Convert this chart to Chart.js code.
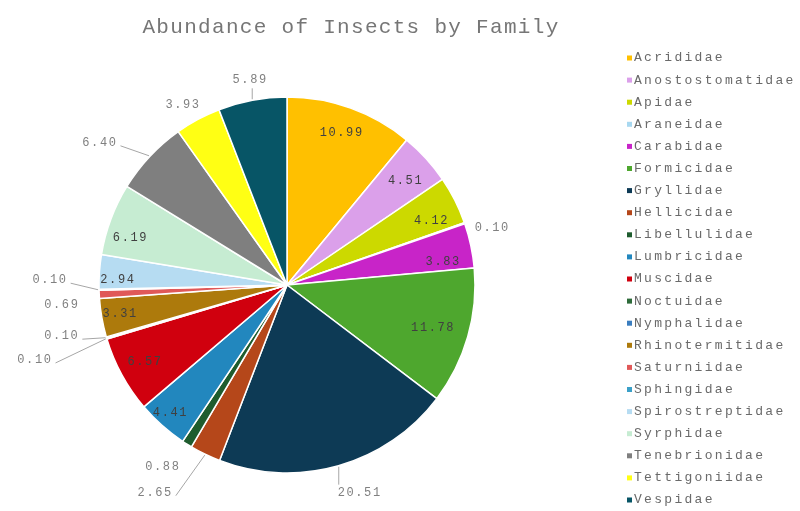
<!DOCTYPE html>
<html>
<head>
<meta charset="utf-8">
<script src="https://cdn.jsdelivr.net/npm/chart.js@4.4.1/dist/chart.umd.min.js"></script>
<style>
  html, body { margin: 0; padding: 0; background: #fff; }
  canvas { display: block; }
</style>
</head>
<body>
<canvas id="insectPie" width="800" height="511"></canvas>
<script>
// percent of all insects caught, per family
const families = [
  "Acrididae", "Anostostomatidae", "Apidae", "Araneidae", "Carabidae",
  "Formicidae", "Gryllidae", "Hellicidae", "Libellulidae", "Lumbricidae",
  "Muscidae", "Noctuidae", "Nymphalidae", "Rhinotermitidae", "Saturniidae",
  "Sphingidae", "Spirostreptidae", "Syrphidae", "Tenebrionidae", "Tettigoniidae",
  "Vespidae"
];
const abundance = [
  10.99, 4.51, 4.12, 0.10, 3.83,
  11.78, 20.51, 2.65, 0.88, 4.41,
  6.57, 0.10, 0.10, 3.31, 0.69,
  0.10, 2.94, 6.19, 6.40, 3.93,
  5.89
];
const sliceColors = [
  "#FFC000", "#DBA0EA", "#CCD900", "#A8D8F0", "#C824C8",
  "#4EA72E", "#0D3A55", "#B5471A", "#1E5C2E", "#2287BE",
  "#D0000E", "#2E6B3A", "#3A7DBF", "#AD7A0C", "#E05858",
  "#3BA0C8", "#B6DCF2", "#C6ECD2", "#7F7F7F", "#FFFF14",
  "#075566"
];

// where each value label goes: inside (r = fraction of radius) or outside (r in px past the rim)
// da = small angle nudge in degrees, leader = draw a connector ('side' or 'top')
const labelSpots = [
  { r: 0.86, da: 0 }, { r: 0.84, da: 1 }, { r: 0.84, da: 3 },
  { out: 25, da: 3.7 }, { r: 0.84, da: 3.7 }, { r: 0.81, da: 0.4 },
  { out: 32, da: -3.4, leader: "top" }, { out: 58, da: 6.6, leader: "side" },
  { out: 32, da: 2.2 }, { r: 0.92, da: 0.7 }, { r: 0.86, da: 0 },
  { out: 75, da: 0, leader: "side" }, { out: 43, da: 3.4, leader: "side" },
  { r: 0.9, da: 0.4 }, { out: 38, da: -2.1 }, { out: 49, da: 2.6, leader: "side" },
  { r: 0.9, da: -2.3 }, { r: 0.87, da: -3.6 }, { out: 47, da: -5.9, leader: "side" },
  { out: 20, da: -1.7 }, { out: 20, da: 0.4, leader: "top" }
];

const monoFont = "'Liberation Mono', 'DejaVu Sans Mono', monospace";

const titlePlugin = {
  id: "titleText",
  afterDraw(chart) {
    const ctx = chart.ctx;
    ctx.save();
    ctx.letterSpacing = "1.3px";
    ctx.font = "21px " + monoFont;
    ctx.fillStyle = "#767676";
    ctx.textAlign = "center";
    ctx.textBaseline = "middle";
    ctx.fillText("Abundance of Insects by Family", 351, 27);
    ctx.restore();
  }
};

const valueLabels = {
  id: "valueLabels",
  afterDatasetsDraw(chart) {
    const ctx = chart.ctx;
    const meta = chart.getDatasetMeta(0);
    const values = chart.data.datasets[0].data;
    ctx.save();
    ctx.font = "12px " + monoFont;
    ctx.letterSpacing = "1.6px";
    ctx.textAlign = "center";
    ctx.textBaseline = "middle";
    meta.data.forEach((arc, i) => {
      const spot = labelSpots[i];
      const R = arc.outerRadius;
      const mid = (arc.startAngle + arc.endAngle) / 2;
      const a = mid + spot.da * Math.PI / 180;
      const dist = spot.out !== undefined ? R + spot.out : R * spot.r;
      const lx = arc.x + dist * Math.cos(a);
      const ly = arc.y + dist * Math.sin(a);
      const text = values[i].toFixed(2);
      const w = ctx.measureText(text).width;

      if (spot.leader) {
        const ex = arc.x + (R + 1) * Math.cos(mid);
        const ey = arc.y + (R + 1) * Math.sin(mid);
        let tx, ty;
        if (spot.leader === "top") {
          // vertical tick between rim and label
          tx = ex;
          ty = ly < arc.y ? ly + 8 : ly - 8;
        } else {
          tx = lx < arc.x ? lx + w / 2 + 3 : lx - w / 2 - 3;
          ty = ly + 3;
        }
        ctx.strokeStyle = "#a6a6a6";
        ctx.lineWidth = 1;
        ctx.beginPath();
        ctx.moveTo(ex, ey);
        ctx.lineTo(tx, ty);
        ctx.stroke();
      }
      ctx.fillStyle = spot.out !== undefined ? "#808080" : "#404040";
      ctx.fillText(text, lx, ly);
    });
    ctx.restore();
  }
};

// legend drawn by hand so it can sit in one tall column like the original
const sideLegend = {
  id: "sideLegend",
  afterDraw(chart) {
    const ctx = chart.ctx;
    const names = chart.data.labels;
    const colors = chart.data.datasets[0].backgroundColor;
    ctx.save();
    ctx.font = "13px " + monoFont;
    ctx.letterSpacing = "2.3px";
    ctx.textBaseline = "middle";
    ctx.textAlign = "left";
    names.forEach((name, i) => {
      const y = 58 + i * 22.1;
      ctx.fillStyle = colors[i];
      ctx.fillRect(627, y - 2.5, 5, 5);
      ctx.fillStyle = "#6a6a6a";
      ctx.fillText(name, 634, y);
    });
    ctx.restore();
  }
};

new Chart(document.getElementById("insectPie"), {
  type: "pie",
  data: {
    labels: families,
    datasets: [{
      data: abundance,
      backgroundColor: sliceColors,
      borderColor: "#ffffff",
      borderWidth: 1.5
    }]
  },
  options: {
    responsive: false,
    animation: false,
    radius: 188,
    layout: { padding: { top: 59, right: 226, bottom: 0, left: 0 } },
    plugins: {
      legend: { display: false },
      title: { display: false },
      tooltip: { enabled: false }
    }
  },
  plugins: [titlePlugin, valueLabels, sideLegend]
});
</script>
</body>
</html>
